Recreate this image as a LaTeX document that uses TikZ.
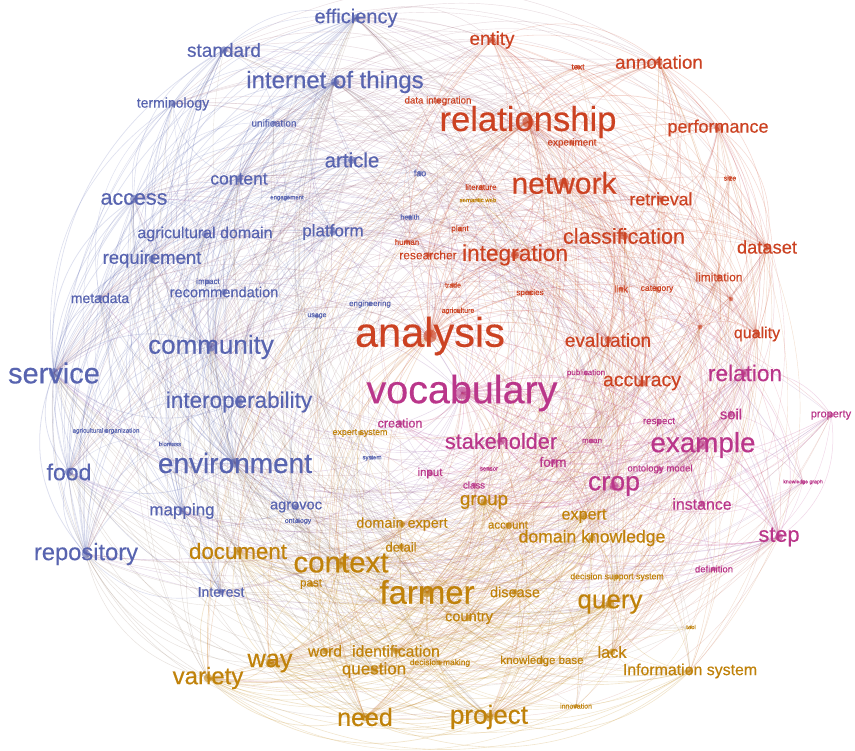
\documentclass[tikz,border=0pt]{standalone}
\usepackage{fontspec}
\setmainfont{Liberation Sans}
\newfontfamily\termfont[FakeBold=0.35]{Liberation Sans}
\definecolor{kB}{RGB}{88,100,176}
\definecolor{kR}{RGB}{204,66,34}
\definecolor{kO}{RGB}{192,130,10}
\definecolor{kM}{RGB}{186,54,138}
\pgfdeclarelayer{paper}
\pgfdeclarelayer{links}
\pgfsetlayers{paper,links,main}
\begin{document}
\begin{tikzpicture}[x=1pt,y=-1pt,
  term/.style={inner sep=0pt,outer sep=0pt},
  link/.style={line cap=round,opacity=.2}]
\begin{pgfonlayer}{paper}
\fill[white] (0,0) rectangle (855,751);
\end{pgfonlayer}
\useasboundingbox (0,0) rectangle (855,751);
% terms: name / x / y / font size / cluster colour / label
\foreach \nm/\px/\py/\fs/\cl/\tx [count=\k] in {
 efficiency/356/18/20/kB/efficiency,
 standard/224/50/19/kB/standard,
 iot/335/82/24/kB/internet of things,
 terminology/173/104/14/kB/terminology,
 unification/274/123/10/kB/unification,
 article/352/160/20.5/kB/article,
 content/239/179/17.5/kB/content,
 engagement/287/198/6/kB/engagement,
 fao/420/173/9/kB/fao,
 health/410/217/7/kB/health,
 access/134/199/21.5/kB/access,
 agridomain/205/234/16/kB/agricultural domain,
 platform/333/232/17/kB/platform,
 requirement/152/259/18.5/kB/requirement,
 metadata/100/298/14/kB/metadata,
 impact/208/282/8/kB/impact,
 recommendation/224/292/14.6/kB/recommendation,
 engineering/370/304/8/kB/engineering,
 usage/317/316/7/kB/usage,
 community/211/347/26/kB/community,
 service/54/373/29/kB/service,
 interop/239/402/22.5/kB/interoperability,
 agriorg/106/431/6.3/kB/agricultural organization,
 biomass/170/444/6/kB/biomass,
 food/69/472/23/kB/food,
 environment/235/463/28/kB/environment,
 mapping/182/511/17/kB/mapping,
 agrovoc/296/507/14.6/kB/agrovoc,
 ontology/298/521/7/kB/ontology,
 repository/86/554/23.7/kB/repository,
 interest/221/592/14/kB/Interest,
 system/372/458/6/kB/system,
 entity/492/40/18.8/kR/entity,
 text/578/67/8/kR/text,
 annotation/659/62/18.8/kR/annotation,
 dataint/438/101/9.7/kR/data integration,
 relationship/528/122/34.6/kR/relationship,
 performance/718/128/18/kR/performance,
 experiment/572/143/9.9/kR/experiment,
 network/564/183/30/kR/network,
 size/730/178/7/kR/size,
 literature/481/187/8/kR/literature,
 retrieval/661/199/17.7/kR/retrieval,
 plant/460/229/8/kR/plant,
 human/407/242/8/kR/human,
 researcher/428/255/12/kR/researcher,
 integration/515/255/22.7/kR/integration,
 classification/624/236/21.5/kR/classification,
 dataset/767/247/18.3/kR/dataset,
 limitation/719/277/11.9/kR/limitation,
 link/621/289/9/kR/link,
 category/657/289/8.5/kR/category,
 trade/453/285/7/kR/trade,
 species/530/293/8/kR/species,
 agriculture/458/311/7/kR/agriculture,
 hubA/731/299/8/kR/,
 hubB/700/327/9/kR/,
 evaluation/608/340/18.9/kR/evaluation,
 quality/757/334/16/kR/quality,
 accuracy/642/383/19.5/kR/accuracy,
 analysis/430/336/41.5/kR/analysis,
 vocabulary/462/393/39.5/kM/vocabulary,
 publication/586/373/8/kM/publication,
 relation/745/373/22.6/kM/relation,
 property/831/415/11/kM/property,
 soil/731/414/14.7/kM/soil,
 respect/659/422/9.8/kM/respect,
 creation/400/423/12.6/kM/creation,
 stakeholder/501/441/21.7/kM/stakeholder,
 mean/592/441/8/kM/mean,
 example/703/445/27.8/kM/example,
 form/553/462/13.5/kM/form,
 ontomodel/660/469/9.6/kM/ontology model,
 input/430/473/11.5/kM/input,
 sensor/489/469/6/kM/sensor,
 class/474/485/9.7/kM/class,
 crop/614/486/26.7/kM/crop,
 kgraph/803/482/5.2/kM/knowledge graph,
 instance/702/504/15.9/kM/instance,
 step/779/537/21.7/kM/step,
 definition/714/569/9.5/kM/definition,
 expertsys/360/433/8.8/kO/expert system,
 group/484/502/18.8/kO/group,
 domainexpert/402/524/14.4/kO/domain expert,
 account/508/525/11.4/kO/account,
 expert/584/516/16.2/kO/expert,
 domainknow/592/538/17.6/kO/domain knowledge,
 detail/401/547/13/kO/detail,
 document/238/551/22.3/kO/document,
 context/341/563/29.5/kO/context,
 dss/617/577/8.7/kO/decision support system,
 past/311/584/11.6/kO/past,
 farmer/427/592/32.9/kO/farmer,
 disease/515/592/14.5/kO/disease,
 country/469/618/14.6/kO/country,
 query/610/604/26/kO/query,
 tool/691/627/6/kO/tool,
 word/325/651/15.7/kO/word,
 identification/396/651/15.8/kO/identification,
 lack/612/652/16.3/kO/lack,
 kbase/542/661/11.5/kO/knowledge base,
 infosys/690/671/15.9/kO/Information system,
 decmaking/440/663/8.4/kO/decision making,
 question/374/670/17/kO/question,
 way/270/663/25.3/kO/way,
 variety/208/678/24/kO/variety,
 innovation/576/706/7/kO/innovation,
 need/365/717/25/kO/need,
 project/489/717/26/kO/project,
 semweb/478/200/6/kO/semantic web}{
  \fill[\cl,opacity=.6] (\px,\py) circle ({0.13*\fs+1.2});
  \node[term,text=\cl,font=\termfont\fontsize{\fs}{\fs}\selectfont] (\nm) at (\px,\py) {\tx};
  \pgfmathsetmacro\ang{atan2(\py-390,\px-430)}
  \expandafter\xdef\csname vn@\k\endcsname{\nm}
  \expandafter\xdef\csname vs@\k\endcsname{\fs}
  \expandafter\xdef\csname vc@\k\endcsname{\cl}
  \expandafter\xdef\csname va@\k\endcsname{\ang}
  \xdef\vN{\k}
}
% co-occurrence links, curved clockwise between term centres
\pgfmathsetseed{11}
\begin{pgfonlayer}{links}
\foreach \i in {1,...,\vN}{
  \foreach \j in {\i,...,\vN}{
    \ifnum\j>\i\relax
      \edef\na{\csname vn@\i\endcsname}\edef\nb{\csname vn@\j\endcsname}
      \edef\ecA{\csname vc@\i\endcsname}\edef\ecB{\csname vc@\j\endcsname}
      \ifx\ecA\ecB\def\fac{1}\else\def\fac{0.4}\fi
      \pgfmathsetmacro\pr{\csname vs@\i\endcsname*\csname vs@\j\endcsname*\fac/560}
      \pgfmathsetmacro\rr{rnd}
      \ifdim\rr pt<\pr pt
        \pgfmathsetmacro\lw{0.35+0.35*min(\pr,2)}
        \pgfmathsetmacro\dd{mod(\csname va@\j\endcsname-\csname va@\i\endcsname+720,360)}
        \ifdim\dd pt<180pt
          \draw[link,draw=\ecA!50!\ecB,line width=\lw pt] (\na.center) to[bend left=32] (\nb.center);
        \else
          \draw[link,draw=\ecA!50!\ecB,line width=\lw pt] (\nb.center) to[bend left=32] (\na.center);
        \fi
      \fi
    \fi
  }
}
\end{pgfonlayer}
\end{tikzpicture}
\end{document}
